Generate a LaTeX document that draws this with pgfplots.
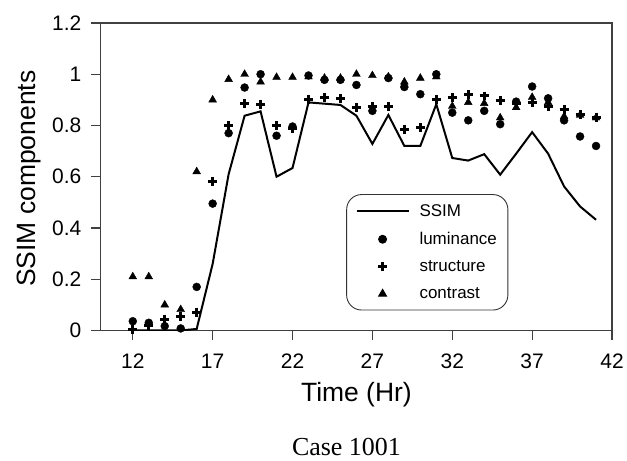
\documentclass[border=0pt]{standalone}
\usepackage{pgfplots}
\pgfplotsset{compat=1.18}
\usetikzlibrary{calc}
\usepackage{fontspec}
\setmainfont{Liberation Sans}
\newfontfamily\capfont{Liberation Serif}
\begin{document}
\begin{tikzpicture}
\begin{axis}[
  scale only axis, width=512pt, height=308pt,
  xmin=10, xmax=42, ymin=0, ymax=1.2,
  xtick={12,17,22,27,32,37,42},
  ytick={0,0.2,0.4,0.6,0.8,1,1.2},
  yticklabels={0,0.2,0.4,0.6,0.8,1,1.2},
  tick pos=left, tick align=outside, major tick length=10pt,
  axis line style={black!75, line width=1.3pt},
  tick style={black!75, line width=1.1pt},
  /pgf/number format/assume math mode=true,
  ticklabel style={font=\fontsize{21}{24}\selectfont},
  xticklabel style={yshift=-10pt},
  yticklabel style={xshift=-6pt},
  label style={font=\fontsize{26.5}{30}\selectfont},
  xlabel={Time (Hr)}, ylabel={SSIM components},
  xlabel style={at={(axis description cs:0.5,-0.2305)}, anchor=base},
  ylabel style={at={(axis description cs:-0.1406,0.4935)}, anchor=center},
  legend style={at={(0.48,0.065)}, anchor=south west, draw=black!80, line width=0.9pt,
    rounded corners=15pt, font=\fontsize{17}{20}\selectfont, row sep=10.5pt,
    inner xsep=9pt, inner ysep=8pt,
    /tikz/every odd column/.append style={column sep=8pt}},
  legend cell align=left,
  legend image code/.code={\draw[mark repeat=2,mark phase=2,#1] plot coordinates {(0pt,0pt)(26pt,0pt)(52pt,0pt)};},
]
\addplot[black, line width=2pt, mark=none] coordinates {
(12,0)(13,0)(14,0)(15,0)(16,0.006)(17,0.26)(18,0.61)(19,0.838)(20,0.855)(21,0.60)
(22,0.634)(23,0.89)(24,0.885)(25,0.88)(26,0.838)(27,0.728)(28,0.841)(29,0.72)(30,0.72)(31,0.883)
(32,0.673)(33,0.663)(34,0.688)(35,0.608)(36,0.69)(37,0.774)(38,0.69)(39,0.562)(40,0.484)(41,0.432)};
\addlegendentry{SSIM}
\addplot[black, only marks, mark=*, mark size=4pt] coordinates {
(12,0.036)(13,0.03)(14,0.017)(15,0.008)(16,0.17)(17,0.495)(18,0.77)(19,0.948)(20,1.0)(21,0.76)
(22,0.796)(23,0.995)(24,0.978)(25,0.978)(26,0.958)(27,0.857)(28,0.985)(29,0.95)(30,0.922)(31,1.0)
(32,0.85)(33,0.82)(34,0.857)(35,0.805)(36,0.893)(37,0.952)(38,0.906)(39,0.82)(40,0.757)(41,0.72)};
\addlegendentry{luminance}
\addplot[black, only marks, mark=+, mark size=4.5pt, mark options={line width=3pt}] coordinates {
(12,0.003)(13,0.02)(14,0.044)(15,0.055)(16,0.072)(17,0.583)(18,0.80)(19,0.884)(20,0.88)(21,0.80)
(22,0.79)(23,0.90)(24,0.91)(25,0.905)(26,0.87)(27,0.875)(28,0.874)(29,0.786)(30,0.792)(31,0.9)
(32,0.909)(33,0.92)(34,0.915)(35,0.897)(36,0.885)(37,0.89)(38,0.874)(39,0.863)(40,0.842)(41,0.833)};
\addlegendentry{structure}
\addplot[black, only marks, mark=triangle*, mark size=4.5pt] coordinates {
(12,0.21)(13,0.21)(14,0.10)(15,0.082)(16,0.62)(17,0.90)(18,0.98)(19,1.0)(20,0.97)(21,0.988)
(22,0.988)(23,0.99)(24,0.985)(25,0.985)(26,1.0)(27,0.995)(28,0.99)(29,0.97)(30,0.985)(31,0.99)
(32,0.875)(33,0.89)(34,0.886)(35,0.83)(36,0.87)(37,0.91)(38,0.89)(39,0.835)(40,0.84)(41,0.83)};
\addlegendentry{contrast}
\end{axis}
\path (current axis.south west) ++(-101pt,-130pt) rectangle ++(627pt,461pt);
\node[font=\capfont\fontsize{26}{30}\selectfont, anchor=base, inner sep=0pt] at ($(current axis.south west)+(246pt,-125pt)$) {Case 1001};
\end{tikzpicture}
\end{document}
